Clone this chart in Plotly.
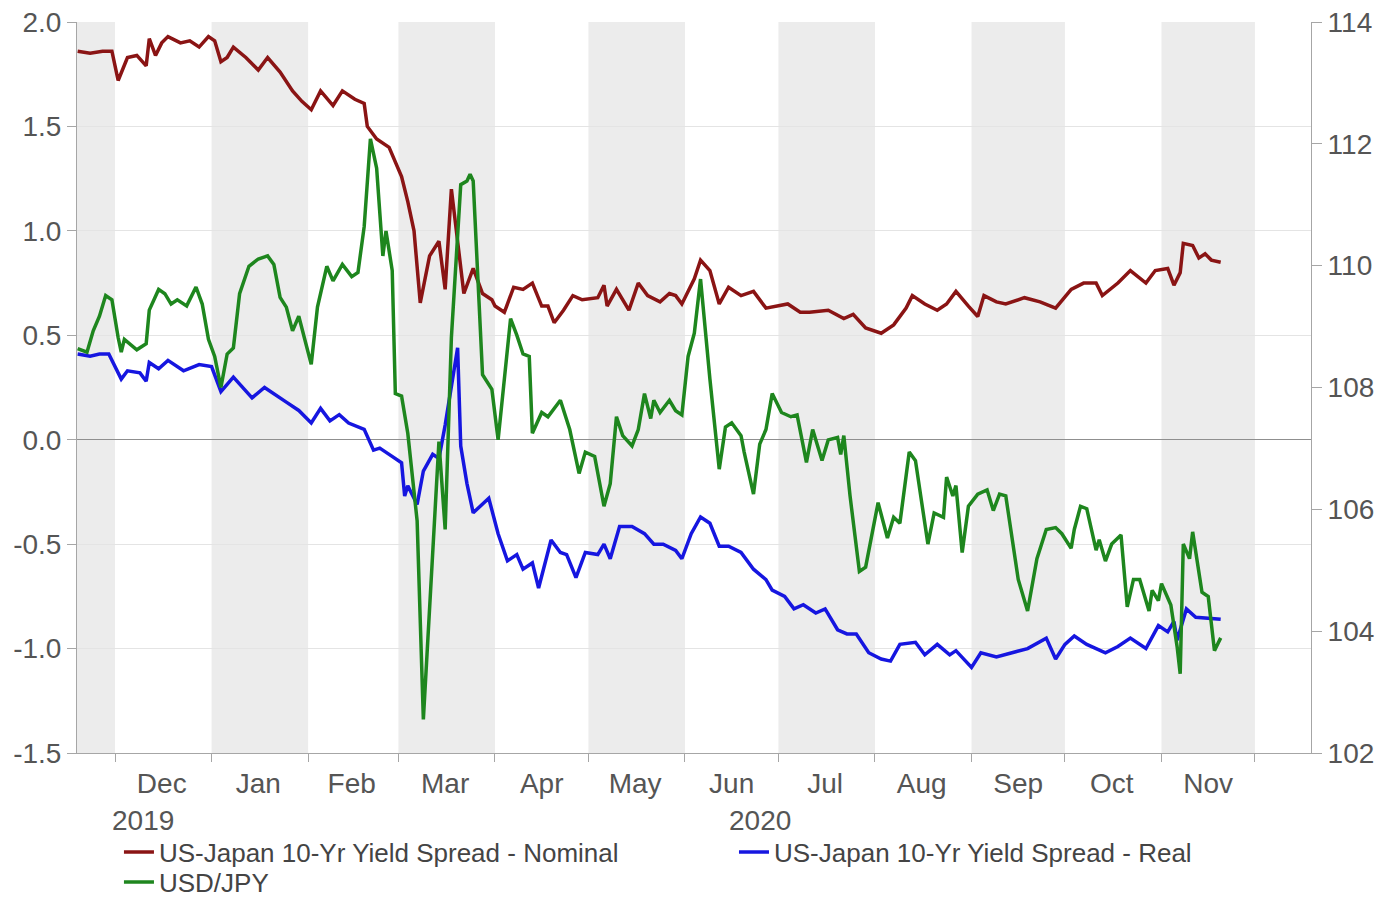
import plotly.graph_objects as go

# ---------------- data ----------------
nominal_dates = [
    "2019-11-19", "2019-11-23", "2019-11-27", "2019-11-30", "2019-12-02", "2019-12-05", "2019-12-08",
    "2019-12-11", "2019-12-12", "2019-12-14", "2019-12-16", "2019-12-18", "2019-12-22", "2019-12-25",
    "2019-12-28", "2019-12-31", "2020-01-02", "2020-01-04", "2020-01-06", "2020-01-08", "2020-01-12",
    "2020-01-16", "2020-01-19", "2020-01-23", "2020-01-27", "2020-01-30", "2020-02-02", "2020-02-05",
    "2020-02-09", "2020-02-12", "2020-02-16", "2020-02-19", "2020-02-20", "2020-02-23", "2020-02-27",
    "2020-03-02", "2020-03-04", "2020-03-06", "2020-03-08", "2020-03-11", "2020-03-14", "2020-03-16",
    "2020-03-18", "2020-03-20", "2020-03-22", "2020-03-25", "2020-03-28", "2020-03-31", "2020-04-01",
    "2020-04-04", "2020-04-07", "2020-04-10", "2020-04-13", "2020-04-16", "2020-04-18", "2020-04-20",
    "2020-04-23", "2020-04-26", "2020-04-29", "2020-05-04", "2020-05-06", "2020-05-07", "2020-05-10",
    "2020-05-14", "2020-05-17", "2020-05-20", "2020-05-24", "2020-05-27", "2020-05-29", "2020-05-31",
    "2020-06-04", "2020-06-06", "2020-06-09", "2020-06-12", "2020-06-15", "2020-06-19", "2020-06-23",
    "2020-06-27", "2020-07-01", "2020-07-04", "2020-07-08", "2020-07-11", "2020-07-17", "2020-07-22",
    "2020-07-25", "2020-07-29", "2020-08-03", "2020-08-07", "2020-08-11", "2020-08-13", "2020-08-17",
    "2020-08-21", "2020-08-24", "2020-08-27", "2020-08-31", "2020-09-03", "2020-09-05", "2020-09-09",
    "2020-09-12", "2020-09-18", "2020-09-23", "2020-09-28", "2020-10-03", "2020-10-07", "2020-10-11",
    "2020-10-13", "2020-10-18", "2020-10-22", "2020-10-27", "2020-10-30", "2020-11-03", "2020-11-05",
    "2020-11-07", "2020-11-08", "2020-11-11", "2020-11-13", "2020-11-15", "2020-11-17", "2020-11-20",
]
nominal_values = [
    1.86, 1.85, 1.86, 1.86, 1.72, 1.83, 1.84,
    1.79, 1.92, 1.84, 1.90, 1.93, 1.90, 1.91,
    1.88, 1.93, 1.91, 1.81, 1.83, 1.88, 1.83,
    1.77, 1.83, 1.76, 1.67, 1.62, 1.58, 1.67,
    1.60, 1.67, 1.63, 1.61, 1.50, 1.44, 1.40,
    1.26, 1.14, 1.00, 0.655, 0.88, 0.95, 0.72,
    1.20, 0.96, 0.70, 0.82, 0.70, 0.67, 0.64,
    0.61, 0.73, 0.72, 0.75, 0.64, 0.64, 0.56,
    0.62, 0.69, 0.67, 0.68, 0.74, 0.64, 0.72,
    0.62, 0.75, 0.69, 0.66, 0.70, 0.69, 0.65,
    0.77, 0.86, 0.81, 0.65, 0.73, 0.69, 0.71,
    0.63, 0.64, 0.65, 0.61, 0.61, 0.62, 0.58,
    0.60, 0.535, 0.51, 0.55, 0.63, 0.69, 0.65,
    0.62, 0.65, 0.71, 0.64, 0.59, 0.69, 0.66,
    0.65, 0.68, 0.66, 0.63, 0.72, 0.75, 0.75,
    0.69, 0.75, 0.81, 0.75, 0.81, 0.82, 0.74,
    0.80, 0.94, 0.93, 0.87, 0.89, 0.86, 0.85,
]

real_dates = [
    "2019-11-19", "2019-11-23", "2019-11-26", "2019-11-29", "2019-12-03", "2019-12-05", "2019-12-09",
    "2019-12-11", "2019-12-12", "2019-12-15", "2019-12-18", "2019-12-23", "2019-12-28", "2020-01-01",
    "2020-01-04", "2020-01-08", "2020-01-14", "2020-01-18", "2020-01-25", "2020-01-29", "2020-02-02",
    "2020-02-05", "2020-02-08", "2020-02-11", "2020-02-14", "2020-02-19", "2020-02-22", "2020-02-24",
    "2020-02-27", "2020-03-02", "2020-03-03", "2020-03-04", "2020-03-07", "2020-03-09", "2020-03-12",
    "2020-03-14", "2020-03-16", "2020-03-20", "2020-03-21", "2020-03-23", "2020-03-25", "2020-03-28",
    "2020-03-30", "2020-04-02", "2020-04-05", "2020-04-08", "2020-04-10", "2020-04-13", "2020-04-15",
    "2020-04-19", "2020-04-22", "2020-04-24", "2020-04-27", "2020-04-30", "2020-05-04", "2020-05-06",
    "2020-05-08", "2020-05-11", "2020-05-15", "2020-05-19", "2020-05-22", "2020-05-25", "2020-05-29",
    "2020-05-31", "2020-06-03", "2020-06-06", "2020-06-09", "2020-06-12", "2020-06-15", "2020-06-19",
    "2020-06-23", "2020-06-27", "2020-06-29", "2020-07-03", "2020-07-06", "2020-07-09", "2020-07-13",
    "2020-07-16", "2020-07-20", "2020-07-23", "2020-07-26", "2020-07-30", "2020-08-03", "2020-08-06",
    "2020-08-09", "2020-08-14", "2020-08-17", "2020-08-21", "2020-08-25", "2020-08-27", "2020-09-01",
    "2020-09-04", "2020-09-09", "2020-09-14", "2020-09-19", "2020-09-25", "2020-09-28", "2020-10-01",
    "2020-10-04", "2020-10-08", "2020-10-14", "2020-10-18", "2020-10-22", "2020-10-27", "2020-10-31",
    "2020-11-03", "2020-11-05", "2020-11-06", "2020-11-09", "2020-11-12", "2020-11-16", "2020-11-20",
]
real_values = [
    0.41, 0.40, 0.41, 0.41, 0.29, 0.33, 0.32,
    0.28, 0.37, 0.34, 0.38, 0.33, 0.36, 0.35,
    0.23, 0.30, 0.20, 0.25, 0.18, 0.14, 0.08,
    0.15, 0.09, 0.12, 0.08, 0.05, -0.05, -0.04,
    -0.07, -0.11, -0.27, -0.22, -0.31, -0.15, -0.07,
    -0.09, 0.07, 0.44, -0.03, -0.21, -0.35, -0.31,
    -0.28, -0.45, -0.58, -0.55, -0.62, -0.59, -0.71,
    -0.48, -0.54, -0.55, -0.66, -0.54, -0.55, -0.50,
    -0.57, -0.415, -0.415, -0.45, -0.50, -0.50, -0.53,
    -0.57, -0.45, -0.37, -0.40, -0.51, -0.51, -0.54,
    -0.62, -0.67, -0.72, -0.75, -0.81, -0.79, -0.83,
    -0.81, -0.91, -0.93, -0.93, -1.02, -1.05, -1.06,
    -0.98, -0.97, -1.03, -0.98, -1.03, -1.01, -1.09,
    -1.02, -1.04, -1.02, -1.00, -0.95, -1.05, -0.98,
    -0.94, -0.98, -1.02, -0.99, -0.95, -1.00, -0.89,
    -0.92, -0.87, -0.96, -0.81, -0.85, -0.855, -0.86,
]

usdjpy_dates = [
    "2019-11-19", "2019-11-22", "2019-11-24", "2019-11-26", "2019-11-28", "2019-11-30", "2019-12-02",
    "2019-12-03", "2019-12-04", "2019-12-08", "2019-12-11", "2019-12-12", "2019-12-15", "2019-12-17",
    "2019-12-19", "2019-12-21", "2019-12-24", "2019-12-27", "2019-12-29", "2019-12-31", "2020-01-02",
    "2020-01-04", "2020-01-06", "2020-01-08", "2020-01-10", "2020-01-13", "2020-01-16", "2020-01-19",
    "2020-01-21", "2020-01-23", "2020-01-25", "2020-01-27", "2020-01-29", "2020-02-02", "2020-02-04",
    "2020-02-07", "2020-02-09", "2020-02-12", "2020-02-15", "2020-02-17", "2020-02-19", "2020-02-21",
    "2020-02-23", "2020-02-25", "2020-02-26", "2020-02-28", "2020-02-29", "2020-03-02", "2020-03-04",
    "2020-03-07", "2020-03-09", "2020-03-11", "2020-03-14", "2020-03-16", "2020-03-18", "2020-03-21",
    "2020-03-23", "2020-03-24", "2020-03-25", "2020-03-28", "2020-03-31", "2020-04-02", "2020-04-06",
    "2020-04-08", "2020-04-10", "2020-04-12", "2020-04-13", "2020-04-16", "2020-04-18", "2020-04-22",
    "2020-04-25", "2020-04-28", "2020-04-30", "2020-05-03", "2020-05-06", "2020-05-08", "2020-05-10",
    "2020-05-12", "2020-05-15", "2020-05-17", "2020-05-19", "2020-05-21", "2020-05-22", "2020-05-24",
    "2020-05-27", "2020-05-29", "2020-05-31", "2020-06-02", "2020-06-04", "2020-06-06", "2020-06-09",
    "2020-06-12", "2020-06-14", "2020-06-16", "2020-06-19", "2020-06-20", "2020-06-23", "2020-06-25",
    "2020-06-27", "2020-06-29", "2020-07-02", "2020-07-05", "2020-07-07", "2020-07-10", "2020-07-12",
    "2020-07-15", "2020-07-17", "2020-07-20", "2020-07-21", "2020-07-22", "2020-07-24", "2020-07-27",
    "2020-07-29", "2020-08-02", "2020-08-05", "2020-08-07", "2020-08-09", "2020-08-12", "2020-08-14",
    "2020-08-18", "2020-08-20", "2020-08-23", "2020-08-24", "2020-08-26", "2020-08-27", "2020-08-29",
    "2020-08-31", "2020-09-03", "2020-09-06", "2020-09-08", "2020-09-10", "2020-09-12", "2020-09-14",
    "2020-09-16", "2020-09-19", "2020-09-22", "2020-09-25", "2020-09-28", "2020-09-30", "2020-10-03",
    "2020-10-04", "2020-10-06", "2020-10-08", "2020-10-11", "2020-10-12", "2020-10-14", "2020-10-16",
    "2020-10-19", "2020-10-21", "2020-10-23", "2020-10-25", "2020-10-28", "2020-10-29", "2020-10-31",
    "2020-11-01", "2020-11-04", "2020-11-06", "2020-11-07", "2020-11-08", "2020-11-10", "2020-11-11",
    "2020-11-14", "2020-11-16", "2020-11-18", "2020-11-20",
]
usdjpy_values = [
    108.64, 108.58, 108.93, 109.17, 109.51, 109.44, 108.82,
    108.58, 108.79, 108.62, 108.72, 109.27, 109.61, 109.54,
    109.37, 109.44, 109.34, 109.65, 109.37, 108.79, 108.51,
    108.00, 108.55, 108.65, 109.54, 109.99, 110.11, 110.16,
    110.02, 109.48, 109.32, 108.93, 109.17, 108.38, 109.32,
    109.99, 109.75, 110.02, 109.82, 109.89, 110.64, 112.08,
    111.60, 110.16, 110.57, 109.92, 107.90, 107.86, 107.25,
    105.81, 102.55, 104.40, 107.11, 105.67, 108.82, 111.33,
    111.39, 111.50, 111.39, 108.21, 107.97, 107.14, 109.13,
    108.86, 108.55, 108.51, 107.25, 107.59, 107.52, 107.79,
    107.31, 106.59, 106.94, 106.87, 106.05, 106.42, 107.52,
    107.21, 107.04, 107.31, 107.90, 107.49, 107.79, 107.59,
    107.79, 107.62, 107.55, 108.51, 108.89, 109.78, 108.14,
    106.66, 107.35, 107.42, 107.21, 106.94, 106.25, 107.07,
    107.31, 107.90, 107.59, 107.52, 107.55, 106.77, 107.31,
    106.80, 107.14, 107.18, 106.90, 107.21, 106.22, 104.98,
    105.05, 106.11, 105.53, 105.87, 105.77, 106.94, 106.80,
    105.43, 105.94, 105.87, 106.53, 106.22, 106.39, 105.29,
    106.05, 106.25, 106.32, 105.98, 106.25, 106.22, 105.57,
    104.85, 104.33, 105.19, 105.67, 105.70, 105.60, 105.36,
    105.67, 106.05, 106.01, 105.33, 105.50, 105.15, 105.43,
    105.58, 104.40, 104.85, 104.85, 104.33, 104.67, 104.50,
    104.78, 104.43, 103.75, 103.30, 105.43, 105.19, 105.63,
    104.64, 104.57, 103.68, 103.89,
]

series_names = [
    "US-Japan 10-Yr Yield Spread - Nominal",
    "US-Japan 10-Yr Yield Spread - Real",
    "USD/JPY",
]

month_labels = ["Dec", "Jan", "Feb", "Mar", "Apr", "May", "Jun", "Jul", "Aug", "Sep", "Oct", "Nov"]
month_label_dates = ["2019-12-16", "2020-01-16", "2020-02-15", "2020-03-16", "2020-04-16", "2020-05-16",
                     "2020-06-16", "2020-07-16", "2020-08-16", "2020-09-16", "2020-10-16", "2020-11-16"]
year_labels = ["2019", "2020"]
year_label_dates = ["2019-12-10", "2020-06-25"]

left_tick_values = [-1.5, -1.0, -0.5, 0.0, 0.5, 1.0, 1.5, 2.0]
left_tick_labels = ["-1.5", "-1.0", "-0.5", "0.0", "0.5", "1.0", "1.5", "2.0"]
right_tick_values = [102, 104, 106, 108, 110, 112, 114]

shaded_starts = ["2019-11-01", "2020-01-01", "2020-03-01", "2020-05-01", "2020-07-01", "2020-09-01", "2020-11-01"]
shaded_ends = ["2019-12-01", "2020-02-01", "2020-04-01", "2020-06-01", "2020-08-01", "2020-10-01", "2020-12-01"]

x_range = ["2019-11-18 19:00", "2020-12-19"]
left_range = [-1.5, 2.0]
right_range = [102, 114]

# ---------------- figure ----------------
FONT = "Liberation Sans, Arial, sans-serif"
TICK_COLOR = "#555555"
LEGEND_COLOR = "#444444"
AXIS_COLOR = "#a6a6a6"
TICK_SIZE = 28
LEGEND_SIZE = 26

fig = go.Figure()
fig.add_trace(go.Scatter(x=nominal_dates, y=nominal_values, name=series_names[0], mode="lines",
                         line=dict(color="#8a1414", width=3.5), yaxis="y", legend="legend"))
fig.add_trace(go.Scatter(x=real_dates, y=real_values, name=series_names[1], mode="lines",
                         line=dict(color="#1616e0", width=3.5), yaxis="y", legend="legend2"))
fig.add_trace(go.Scatter(x=usdjpy_dates, y=usdjpy_values, name=series_names[2], mode="lines",
                         line=dict(color="#1e861e", width=3.5), yaxis="y2", legend="legend3"))

shapes = []
for s, e in zip(shaded_starts, shaded_ends):
    shapes.append(dict(type="rect", xref="x", yref="paper", x0=s, x1=e, y0=0, y1=1,
                       fillcolor="#ececec", line=dict(width=0), layer="below"))

annotations = []
for lbl, d in zip(year_labels, year_label_dates):
    annotations.append(dict(text=lbl, x=d, xref="x", y=-0.0925, yref="paper", showarrow=False,
                            xanchor="center", yanchor="middle",
                            font=dict(family=FONT, size=TICK_SIZE, color=TICK_COLOR)))

legend_common = dict(orientation="h", xanchor="left", yanchor="middle", bgcolor="rgba(0,0,0,0)",
                     font=dict(family=FONT, size=LEGEND_SIZE, color=LEGEND_COLOR), itemwidth=30)

fig.update_layout(
    width=1395, height=897, autosize=False,
    margin=dict(l=77, r=84, t=22, b=144, autoexpand=False),
    paper_bgcolor="white", plot_bgcolor="white",
    font=dict(family=FONT, size=TICK_SIZE, color=TICK_COLOR),
    shapes=shapes, annotations=annotations,
    showlegend=True,
    legend=dict(x=0.034, y=-0.1355, **legend_common),
    legend2=dict(x=0.5324, y=-0.1355, **legend_common),
    legend3=dict(x=0.034, y=-0.1765, **legend_common),
    xaxis=dict(type="date", range=x_range, tickmode="array", tickvals=month_label_dates,
               ticktext=month_labels, ticks="", showgrid=False, showline=True, linecolor=AXIS_COLOR,
               linewidth=1, zeroline=False, tickfont=dict(family=FONT, size=TICK_SIZE, color=TICK_COLOR),
               ticklabelstandoff=5,
               minor=dict(ticks="outside", dtick="M1", tick0="2019-12-01", ticklen=8,
                          tickcolor=AXIS_COLOR, tickwidth=1, showgrid=False)),
    yaxis=dict(range=left_range, tickmode="array", tickvals=left_tick_values, ticktext=left_tick_labels,
               ticks="outside", ticklen=9,
               tickcolor=AXIS_COLOR, showline=True, linecolor=AXIS_COLOR, showgrid=True,
               gridcolor="#e4e4e4", gridwidth=1, zeroline=True, zerolinecolor="#8f8f8f",
               zerolinewidth=1, tickfont=dict(family=FONT, size=TICK_SIZE, color=TICK_COLOR)),
    yaxis2=dict(range=right_range, tickmode="array", tickvals=right_tick_values, overlaying="y",
                side="right", ticks="outside",
                ticklen=10, tickcolor=AXIS_COLOR, showline=True, linecolor=AXIS_COLOR,
                showgrid=False, zeroline=False,
                tickfont=dict(family=FONT, size=TICK_SIZE, color=TICK_COLOR)),
)

fig.write_html("out.html")
